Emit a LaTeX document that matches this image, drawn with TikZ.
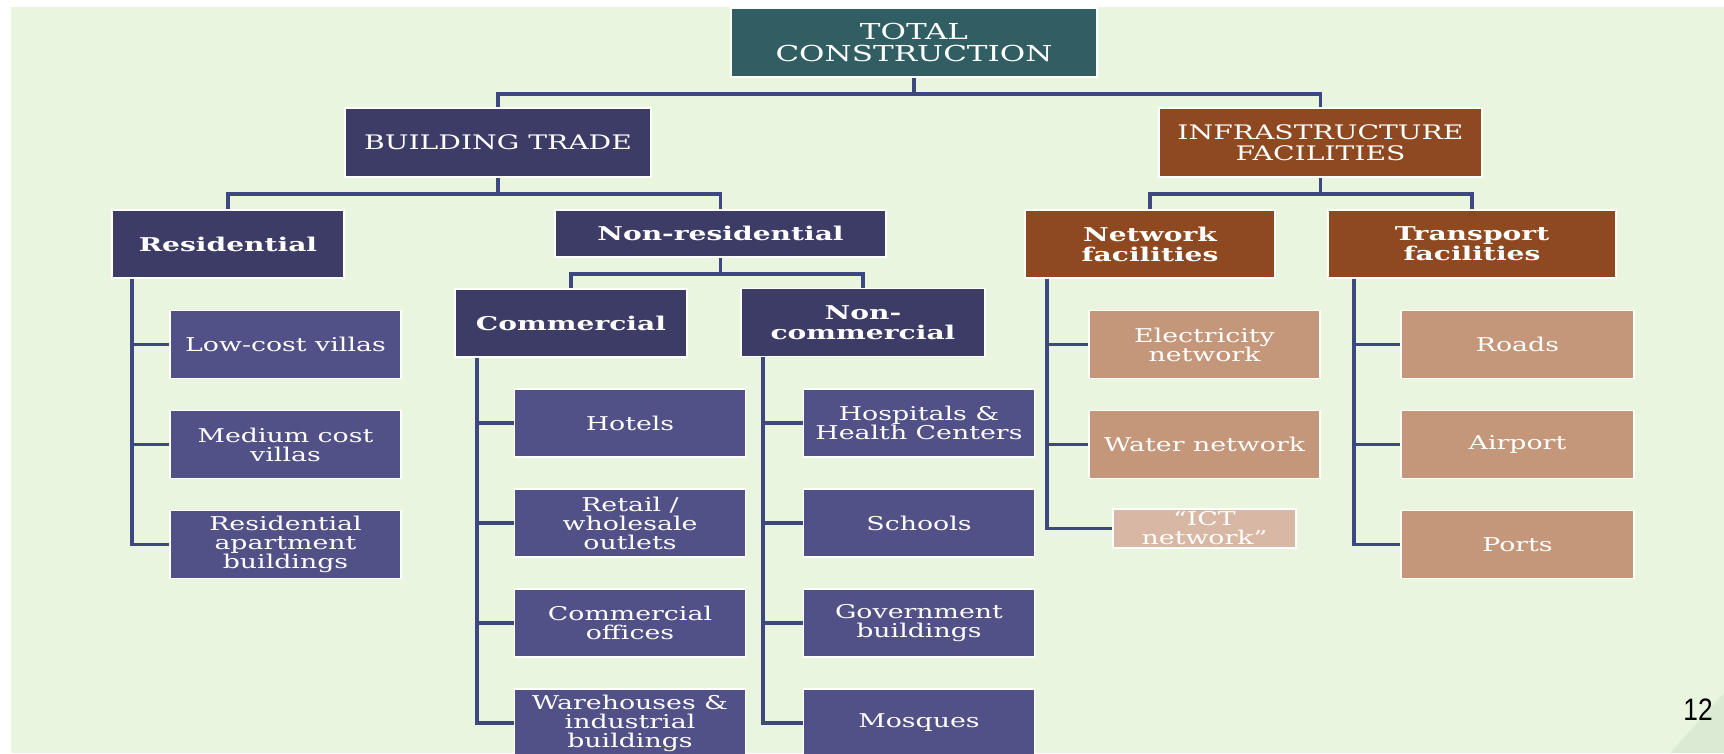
\documentclass[tikz,border=0pt]{standalone}
\usepackage{fontspec}
\setmainfont{DejaVu Serif}
\newfontfamily\boxfont[FakeStretch=1.41]{DejaVu Serif}
\newfontfamily\heavyfont[FakeStretch=1.48]{DejaVu Serif}
\newfontfamily\numfont[FakeStretch=0.85]{Liberation Sans}

\definecolor{bggreen}{RGB}{234,245,223}
\definecolor{cornergreen}{RGB}{219,234,211}
\definecolor{cTeal}{RGB}{48,94,98}
\definecolor{cNavy}{RGB}{60,60,102}
\definecolor{cPurple}{RGB}{81,81,135}
\definecolor{cBrown}{RGB}{142,73,33}
\definecolor{cTan}{RGB}{197,151,122}
\definecolor{cIct}{RGB}{216,184,164}
\definecolor{cLine}{RGB}{62,72,128}

\def\s{1pt}
\def\pos#1#2{({#1*\s},{-(#2)*\s})}

\begin{document}
\begin{tikzpicture}[thick,
	box/.style={draw=white,line width=1.8pt,inner sep=0pt,align=center,text=white,minimum height=68pt},
	caps/.style={box,minimum height=69pt,font=\boxfont\fontsize{20}{21}\selectfont},
	head/.style={box,font=\heavyfont\bfseries\fontsize{19}{20}\selectfont},
	leaf/.style={box,fill=cPurple,minimum width=231pt,font=\boxfont\fontsize{19}{19}\selectfont},
	tanleaf/.style={leaf,fill=cTan},
	link/.style={draw=cLine,line width=3.5pt}]
\clip \pos{0}{0} rectangle \pos{1724}{753};
\fill[white] \pos{0}{0} rectangle \pos{1724}{753};
\fill[bggreen] \pos{11}{7} rectangle \pos{1724}{753};
\fill[cornergreen] \pos{1670}{753} -- \pos{1724}{693} -- \pos{1724}{753} -- cycle;

\node[caps,fill=cTeal,minimum width=366pt,font=\boxfont\fontsize{22}{22}\selectfont] (tc) at \pos{914}{42.5} {TOTAL\\CONSTRUCTION};
\node[caps,fill=cNavy,minimum width=306pt] (bt) at \pos{498}{142.5} {BUILDING TRADE};
\node[caps,fill=cBrown,minimum width=323pt] (infra) at \pos{1320.5}{142.5} {INFRASTRUCTURE\\FACILITIES};

\node[head,fill=cNavy,minimum width=232pt] (res) at \pos{228}{244} {Residential};
\node[head,fill=cNavy,minimum width=331pt,minimum height=47pt] (nonres) at \pos{720.5}{233.5} {Non-residential};
\node[head,fill=cBrown,minimum width=250pt] (netw) at \pos{1150}{244} {Network\\facilities};
\node[head,fill=cBrown,minimum width=288pt] (trans) at \pos{1472}{244} {Transport\\facilities};
\node[head,fill=cNavy,minimum width=232pt] (com) at \pos{571}{323} {Commercial};
\node[head,fill=cNavy,minimum width=244pt] (noncom) at \pos{863}{322.5} {Non-\\commercial};

\foreach \n/\k/\t in {lowcost/0/{Low-cost villas},medcost/1/{Medium cost\\villas},apart/2/{Residential\\apartment\\buildings}}{
	\node[leaf] (\n) at \pos{285.5}{344.5+100*\k} {\t};
	\draw[link] ([xshift=21pt]res.south west) |- (\n.west);
}
\foreach \n/\k/\t in {hotels/0/{Hotels},retail/1/{Retail /\\wholesale\\outlets},offices/2/{Commercial\\offices},warehouses/3/{Warehouses \&\\industrial\\buildings}}{
	\node[leaf] (\n) at \pos{630}{423+100*\k} {\t};
	\draw[link] ([xshift=23pt]com.south west) |- (\n.west);
}
\foreach \n/\k/\t in {hospitals/0/{Hospitals \&\\Health Centers},schools/1/{Schools},govt/2/{Government\\buildings},mosques/3/{Mosques}}{
	\node[leaf] (\n) at \pos{919}{423+100*\k} {\t};
	\draw[link] ([xshift=23pt]noncom.south west) |- (\n.west);
}
\foreach \n/\k/\t in {elec/0/{Electricity\\network},water/1/{Water network}}{
	\node[tanleaf] (\n) at \pos{1204.5}{344.5+100*\k} {\t};
	\draw[link] ([xshift=23pt]netw.south west) |- (\n.west);
}
\node[tanleaf,fill=cIct,minimum width=183pt,minimum height=39pt] (ict) at \pos{1204.5}{528.5} {“ICT\\network”};
\draw[link] ([xshift=23pt]netw.south west) |- (ict.west);
\foreach \n/\k/\t in {roads/0/Roads,airport/1/Airport,ports/2/Ports}{
	\node[tanleaf,minimum width=233pt] (\n) at \pos{1517.5}{344.5+100*\k} {\t};
	\draw[link] ([xshift=27pt]trans.south west) |- (\n.west);
}

\draw[link] (tc.south) -- ++(0,-16pt) -| (bt.north);
\draw[link] (tc.south) ++(0,-16pt) -| (infra.north);
\draw[link] (bt.south) -- ++(0,-16pt) -| (res.north);
\draw[link] (bt.south) ++(0,-16pt) -| (nonres.north);
\draw[link] (infra.south) -- ++(0,-16pt) -| (netw.north);
\draw[link] (infra.south) ++(0,-16pt) -| (trans.north);
\draw[link] (nonres.south) -- ++(0,-16pt) -| (com.north);
\draw[link] (nonres.south) ++(0,-16pt) -| (noncom.north);

\node[font=\numfont\fontsize{31}{31}\selectfont] (pagenum) at \pos{1698}{710} {12};
\end{tikzpicture}
\end{document}
